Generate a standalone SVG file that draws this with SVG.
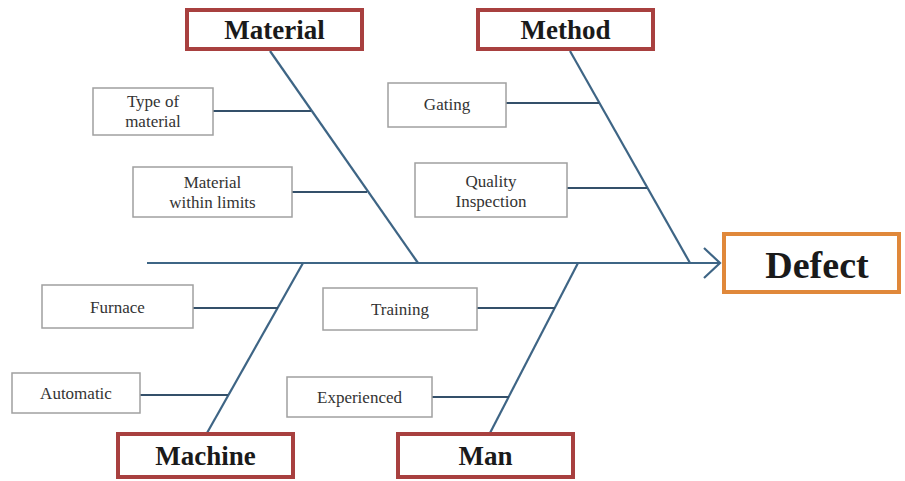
<svg xmlns="http://www.w3.org/2000/svg" width="905" height="481" viewBox="0 0 905 481">
<style>
.cat{fill:#fff;stroke:#a8403f;stroke-width:4}
.eff{fill:#fff;stroke:#e0883a;stroke-width:4}
.sub{fill:#fff;stroke:#a0a0a0;stroke-width:1.5}
.catt{font-family:"Liberation Serif",serif;font-weight:bold;font-size:27px;fill:#1a1a1a;text-anchor:middle}
.efft{font-family:"Liberation Serif",serif;font-weight:bold;font-size:38px;fill:#1a1a1a;text-anchor:middle}
.subt{font-family:"Liberation Serif",serif;font-size:17px;fill:#333;text-anchor:middle}
.bone{stroke:#3e6585;stroke-width:2.2;fill:none}
.twig{stroke:#34506a;stroke-width:2.2;fill:none}
</style>
<rect width="905" height="481" fill="#fff"/>
<g id="connectors">
<line class="bone" x1="147" y1="263" x2="720" y2="263"/>
<polyline class="bone" points="704,248 720,263 704,278"/>
<line class="bone" x1="270" y1="51" x2="418" y2="263"/>
<line class="bone" x1="570" y1="51" x2="690" y2="263"/>
<line class="bone" x1="303" y1="263" x2="207" y2="433"/>
<line class="bone" x1="578" y1="263" x2="490" y2="433"/>
<line class="twig" x1="213" y1="111" x2="311" y2="111"/>
<line class="twig" x1="292" y1="192" x2="367" y2="192"/>
<line class="twig" x1="506" y1="103" x2="599" y2="103"/>
<line class="twig" x1="567" y1="188" x2="647" y2="188"/>
<line class="twig" x1="193" y1="308" x2="278" y2="308"/>
<line class="twig" x1="140" y1="395" x2="228" y2="395"/>
<line class="twig" x1="477" y1="308" x2="555" y2="308"/>
<line class="twig" x1="432" y1="397" x2="509" y2="397"/>
</g>
<g id="material"><rect class="cat" x="187" y="10" width="175" height="39"/><text class="catt" x="274.5" y="39">Material</text></g>
<g id="method"><rect class="cat" x="478" y="10" width="175" height="39"/><text class="catt" x="565.5" y="39">Method</text></g>
<g id="machine"><rect class="cat" x="118" y="434" width="175" height="43"/><text class="catt" x="205.5" y="465">Machine</text></g>
<g id="man"><rect class="cat" x="398" y="434" width="175" height="43"/><text class="catt" x="485.5" y="465">Man</text></g>
<g id="defect"><rect class="eff" x="724" y="234" width="175" height="58"/><text class="efft" x="817" y="278">Defect</text></g>
<g id="type-of-material"><rect class="sub" x="93" y="88" width="120" height="47"/><text class="subt" x="153" y="107">Type of</text><text class="subt" x="153" y="127">material</text></g>
<g id="material-within-limits"><rect class="sub" x="133" y="167" width="159" height="50"/><text class="subt" x="212.5" y="188">Material</text><text class="subt" x="212.5" y="208">within limits</text></g>
<g id="gating"><rect class="sub" x="388" y="83" width="118" height="44"/><text class="subt" x="447" y="110">Gating</text></g>
<g id="quality-inspection"><rect class="sub" x="415" y="163" width="152" height="54"/><text class="subt" x="491" y="187">Quality</text><text class="subt" x="491" y="207">Inspection</text></g>
<g id="furnace"><rect class="sub" x="42" y="285" width="151" height="43"/><text class="subt" x="117.5" y="313">Furnace</text></g>
<g id="automatic"><rect class="sub" x="12" y="373" width="128" height="40"/><text class="subt" x="76" y="399">Automatic</text></g>
<g id="training"><rect class="sub" x="323" y="288" width="154" height="42"/><text class="subt" x="400" y="315">Training</text></g>
<g id="experienced"><rect class="sub" x="287" y="377" width="145" height="40"/><text class="subt" x="359.5" y="403">Experienced</text></g>
</svg>
